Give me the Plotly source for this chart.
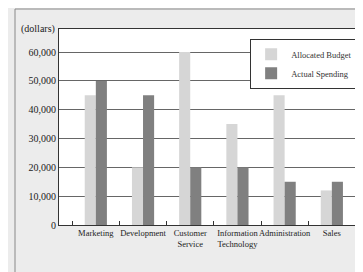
import plotly.graph_objects as go

categories = ["Marketing", "Development", "Customer<br>Service", "Information<br>Technology", "Administration", "Sales"]
allocated_budget = [45000, 20000, 60000, 35000, 45000, 12000]
actual_spending = [50000, 45000, 20000, 20000, 15000, 15000]
y_ticks = [0, 10000, 20000, 30000, 40000, 50000, 60000]
y_tick_labels = ["0", "10,000", "20,000", "30,000", "40,000", "50,000", "60,000"]

FONT = "Liberation Serif, Times New Roman, serif"

fig = go.Figure()
fig.add_trace(go.Bar(name="Allocated Budget", x=categories, y=allocated_budget,
                     marker=dict(color="#d6d6d6", line=dict(width=0))))
fig.add_trace(go.Bar(name="Actual Spending", x=categories, y=actual_spending,
                     marker=dict(color="#808080", line=dict(width=0))))

fig.update_layout(
    width=363, height=272,
    margin=dict(l=51, r=8, t=21, b=55, autoexpand=False),
    paper_bgcolor="#ececec",
    plot_bgcolor="white",
    barmode="group", bargap=0.53, bargroupgap=0,
    font=dict(family=FONT, size=10, color="#222"),
    showlegend=True,
    legend=dict(x=0.984, y=0.95, xanchor="right", yanchor="top",
                bgcolor="white", bordercolor="#333", borderwidth=1,
                font=dict(family=FONT, size=8.5, color="#333"),
                itemwidth=30, tracegroupgap=0),
    xaxis=dict(range=[-0.78, 5.66], showgrid=False, showline=True, linecolor="#333",
               mirror=True, ticks="inside", tickson="boundaries", ticklen=4,
               tickcolor="#333", tickangle=0, automargin=False,
               tickfont=dict(size=8.5, family=FONT, color="#222")),
    yaxis=dict(range=[0, 68000], tickvals=y_ticks, ticktext=y_tick_labels,
               showgrid=True, gridcolor="#666", gridwidth=1, automargin=False,
               showline=True, linecolor="#333", mirror=True, zeroline=False,
               ticks="", tickfont=dict(size=10, family=FONT, color="#222")),
    shapes=[dict(type="rect", xref="paper", yref="paper",
                 x0=-0.1447, x1=1.06, y0=-0.2755, y1=1.102,
                 line=dict(color="#888", width=1), fillcolor="rgba(0,0,0,0)")],
    annotations=[dict(text="(dollars)", xref="paper", yref="paper",
                      x=-0.005, y=1.0, xanchor="right", yanchor="middle",
                      showarrow=False, font=dict(family=FONT, size=10, color="#222"))],
)

fig.write_html("out.html")
